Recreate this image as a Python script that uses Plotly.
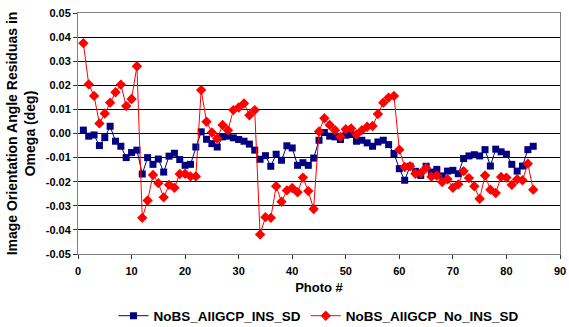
import plotly.graph_objects as go

photo = list(range(1, 86))

ins_sd = [0.0014, -0.0011, -0.0006, -0.0050, -0.0017, 0.0030, -0.0032, -0.0053, -0.0100, -0.0079,
          -0.0069, -0.0168, -0.0100, -0.0128, -0.0106, -0.0160, -0.0094, -0.0082, -0.0108, -0.0132,
          -0.0128, -0.0056, 0.0007, -0.0024, -0.0042, -0.0056, -0.0014, -0.0011, -0.0018, -0.0025,
          -0.0032, -0.0044, -0.0069, -0.0107, -0.0092, -0.0136, -0.0086, -0.0111, -0.0051, -0.0060,
          -0.0132, -0.0121, -0.0132, -0.0102, -0.0028, 0.0004, -0.0011, -0.0014, -0.0025, -0.0007,
          -0.0004, -0.0032, -0.0028, -0.0039, -0.0053, -0.0035, -0.0028, -0.0046, -0.0083, -0.0146,
          -0.0194, -0.0136, -0.0157, -0.0174, -0.0136, -0.0160, -0.0149, -0.0176, -0.0156, -0.0153,
          -0.0167, -0.0104, -0.0093, -0.0088, -0.0093, -0.0067, -0.0135, -0.0065, -0.0076, -0.0086,
          -0.0128, -0.0156, -0.0135, -0.0067, -0.0053]

no_ins_sd = [0.0375, 0.0204, 0.0156, 0.0042, 0.0083, 0.0128, 0.0171, 0.0203, 0.0114, 0.0143,
             0.0279, -0.0350, -0.0278, -0.0172, -0.0206, -0.0265, -0.0213, -0.0225, -0.0168, -0.0167,
             -0.0178, -0.0178, 0.0180, 0.0049, 0.0004, -0.0021, 0.0035, 0.0014, 0.0097, 0.0108,
             0.0125, 0.0076, 0.0097, -0.0419, -0.0347, -0.0350, -0.0219, -0.0283, -0.0236, -0.0226,
             -0.0244, -0.0183, -0.0239, -0.0313, 0.0008, 0.0063, 0.0035, 0.0014, -0.0014, 0.0018,
             0.0021, -0.0004, 0.0014, 0.0028, 0.0031, 0.0081, 0.0128, 0.0149, 0.0156, -0.0067,
             -0.0139, -0.0136, -0.0167, -0.0164, -0.0143, -0.0179, -0.0174, -0.0201, -0.0190, -0.0225,
             -0.0211, -0.0156, -0.0185, -0.0219, -0.0271, -0.0174, -0.0233, -0.0247, -0.0180, -0.0183,
             -0.0213, -0.0190, -0.0194, -0.0125, -0.0233]

y_tickvals = [0.05, 0.04, 0.03, 0.02, 0.01, 0.0, -0.01, -0.02, -0.03, -0.04, -0.05]
y_ticktext = ["0.05", "0.04", "0.03", "0.02", "0.01", "0.00", "-0.01", "-0.02", "-0.03", "-0.04", "-0.05"]
x_tickvals = [0, 10, 20, 30, 40, 50, 60, 70, 80, 90]

font_family = "Liberation Sans, Arial, sans-serif"

fig = go.Figure()
fig.add_trace(go.Scatter(
    x=photo, y=ins_sd, name="NoBS_AllGCP_INS_SD", mode="lines+markers",
    line=dict(color="#000080", width=1),
    marker=dict(symbol="square", size=7, color="#000080"),
))
fig.add_trace(go.Scatter(
    x=photo, y=no_ins_sd, name="NoBS_AllGCP_No_INS_SD", mode="lines+markers",
    line=dict(color="#ff0000", width=1),
    marker=dict(symbol="diamond", size=8, color="#ff0000"),
))

fig.update_layout(
    width=569, height=327,
    margin=dict(l=78, r=9, t=13, b=73, autoexpand=False),
    paper_bgcolor="white", plot_bgcolor="white",
    font=dict(family=font_family, color="black", size=11),
    showlegend=True,
    legend=dict(orientation="h", x=0.5, xanchor="center", y=-0.257, yanchor="middle",
                font=dict(size=13.5, family=font_family, weight="bold"),
                tracegroupgap=0),
    xaxis=dict(range=[0, 90], tickvals=x_tickvals, ticks="outside", ticklen=4,
               tickcolor="#333", showgrid=False, zeroline=False, automargin=False,
               showline=True, linecolor="#808080", linewidth=1, mirror=True,
               ticklabelstandoff=3,
               tickfont=dict(size=11, weight="bold"),
               title=dict(text="<b>Photo #</b>", font=dict(size=13), standoff=6)),
    yaxis=dict(range=[-0.05, 0.05], tickvals=y_tickvals, ticktext=y_ticktext,
               ticks="outside", ticklen=4, tickcolor="#333", automargin=False,
               showgrid=True, gridcolor="#000000", gridwidth=1, zeroline=False,
               showline=True, linecolor="#808080", linewidth=1, mirror=True,
               tickfont=dict(size=11, weight="bold"),
               title=dict(text="<b>Image Orientation Angle Residuas in<br>Omega (deg)</b>",
                          font=dict(size=14), standoff=6)),
)

fig.write_html("out.html")
